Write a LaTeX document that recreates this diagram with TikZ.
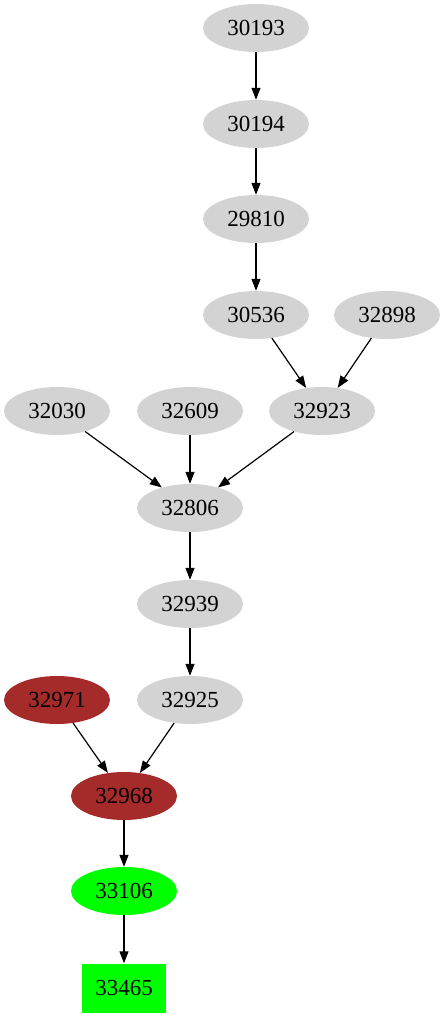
\documentclass[tikz,border=0pt]{standalone}
\usepackage{fontspec}
\setmainfont{Liberation Serif}
\usetikzlibrary{shapes.geometric,arrows.meta}
\definecolor{lgray}{RGB}{211,211,211}
\definecolor{brownc}{RGB}{165,42,42}
\definecolor{greenc}{RGB}{0,255,0}
\tikzset{
  nd/.style={ellipse,fill=lgray,minimum width=106pt,minimum height=48pt,inner sep=0pt,font=\fontsize{23pt}{23pt}\selectfont},
  brn/.style={nd,fill=brownc},
  grn/.style={nd,fill=greenc},
  bx/.style={rectangle,fill=greenc,minimum width=84pt,minimum height=49pt,inner sep=0pt,font=\fontsize{23pt}{23pt}\selectfont},
  edge/.style={draw=black,line width=1.2pt,-{Triangle[length=12pt,width=9pt]}}
}
\begin{document}
\begin{tikzpicture}[x=1pt,y=-1pt]
\useasboundingbox (0,0) rectangle (447,1019);
\node[nd] (a30193) at (256,28) {30193};
\node[nd] (a30194) at (256,124) {30194};
\node[nd] (a29810) at (256,219) {29810};
\node[nd] (a30536) at (256,315) {30536};
\node[nd] (a32898) at (387,315) {32898};
\node[nd] (a32923) at (322,411) {32923};
\node[nd] (a32030) at (57,411) {32030};
\node[nd] (a32609) at (190,411) {32609};
\node[nd] (a32806) at (190,508) {32806};
\node[nd] (a32939) at (190,604) {32939};
\node[nd] (a32925) at (190,700) {32925};
\node[brn] (a32971) at (57,700) {32971};
\node[brn] (a32968) at (124,796) {32968};
\node[grn] (a33106) at (124,891) {33106};
\node[bx] (a33465) at (124,988) {33465};
\draw[edge] (a30193) -- (a30194);
\draw[edge] (a30194) -- (a29810);
\draw[edge] (a29810) -- (a30536);
\draw[edge] (a30536) -- (a32923);
\draw[edge] (a32898) -- (a32923);
\draw[edge] (a32030) -- (a32806);
\draw[edge] (a32609) -- (a32806);
\draw[edge] (a32923) -- (a32806);
\draw[edge] (a32806) -- (a32939);
\draw[edge] (a32939) -- (a32925);
\draw[edge] (a32971) -- (a32968);
\draw[edge] (a32925) -- (a32968);
\draw[edge] (a32968) -- (a33106);
\draw[edge] (a33106) -- (a33465);
\end{tikzpicture}
\end{document}
